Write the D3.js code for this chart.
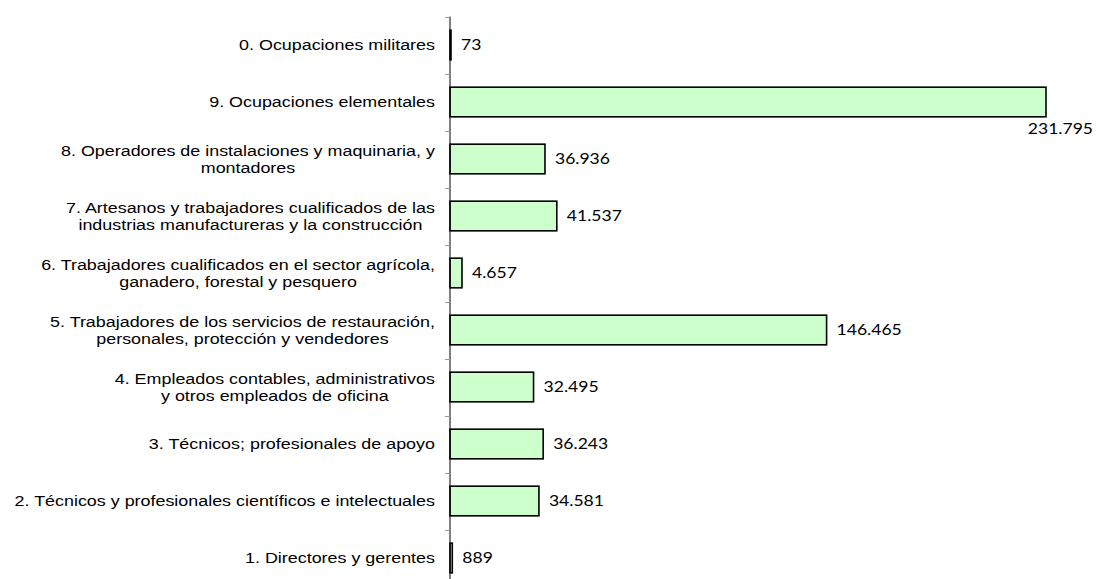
<!DOCTYPE html>
<html>
<head>
<meta charset="utf-8">
<script src="https://cdn.jsdelivr.net/npm/d3@7"></script>
<style>
  body { margin: 0; background: #fff; }
</style>
</head>
<body>
<div id="chart"></div>
<script>
// categories, top to bottom
const categories = [
    ["0. Ocupaciones militares"],
    ["9. Ocupaciones elementales"],
    ["8. Operadores de instalaciones y maquinaria, y", "montadores"],
    ["7. Artesanos y trabajadores cualificados de las", "industrias manufactureras y la construcción"],
    ["6. Trabajadores cualificados en el sector agrícola,", "ganadero, forestal y pesquero"],
    ["5. Trabajadores de los servicios de restauración,", "personales, protección y vendedores"],
    ["4. Empleados contables, administrativos", "y otros empleados de oficina"],
    ["3. Técnicos; profesionales de apoyo"],
    ["2. Técnicos y profesionales científicos e intelectuales"],
    ["1. Directores y gerentes"]
]
const values = [73, 231795, 36936, 41537, 4657, 146465, 32495, 36243, 34581, 889]
const valueLabels = ["73", "231.795", "36.936", "41.537", "4.657", "146.465", "32.495", "36.243", "34.581", "889"]

const width = 1096, height = 579
const x0 = 450, plotTop = 16.5, plotBottom = 586.5
const sx = 1.17   // the reference text is a bit wide, stretch it horizontally

const svg = d3.select("#chart")
    .append("svg")
    .attr("width", width)
    .attr("height", height)

const data = categories.map((c, i) => ({ id: i, lines: c, value: values[i], label: valueLabels[i] }))

// scales
var x = d3.scaleLinear()
    .domain([0, 231795])
    .range([x0, 1046])

var y = d3.scaleBand()
    .domain(data.map(d => d.id))
    .range([plotTop, plotBottom])
    .paddingInner(0.48)
    .paddingOuter(0.24)

var yb = d3.scaleBand()
    .domain(data.map(d => d.id))
    .range([plotTop, plotBottom])

// bars
svg.append("g")
    .selectAll("rect")
    .data(data)
    .enter()
    .append("rect")
    .attr("x", x(0))
    .attr("y", d => y(d.id))
    .attr("width", d => Math.max(x(d.value) - x(0), 1))
    .attr("height", y.bandwidth())
    .attr("fill", "#ccffcc")
    .attr("stroke", "#000")
    .attr("stroke-width", 1.6)

// axis line + ticks at band edges
const axisG = svg.append("g")
axisG.append("line")
    .attr("x1", x0).attr("x2", x0)
    .attr("y1", plotTop).attr("y2", height)
    .attr("stroke", "#000")
    .attr("stroke-width", 1)
axisG.selectAll(".tick")
    .data(data)
    .enter()
    .append("line")
    .attr("x1", x0 - 5).attr("x2", x0)
    .attr("y1", d => Math.round(yb(d.id)) + 0.5)
    .attr("y2", d => Math.round(yb(d.id)) + 0.5)
    .attr("stroke", "#999")
    .attr("stroke-width", 1)

// category labels: block right-aligned, lines centered with each other
const labelRight = 435
const lineH = 17
data.forEach(d => {
    const cy = yb(d.id) + yb.bandwidth() / 2
    const g = svg.append("g")
    const texts = d.lines.map((line, j) => g.append("text")
        .attr("dy", "0.35em")
        .attr("text-anchor", "middle")
        .style("font-family", "'Liberation Sans', Arial, sans-serif")
        .style("font-size", "15.3px")
        .style("fill", "#000")
        .text(line))
    const maxW = d3.max(texts, t => t.node().getComputedTextLength()) * sx
    texts.forEach((t, j) => t.attr("transform",
        `translate(${labelRight - maxW / 2},${cy + (j - (d.lines.length - 1) / 2) * lineH}) scale(${sx},1)`))
})

// value labels
svg.append("g")
    .selectAll("text")
    .data(data)
    .enter()
    .append("text")
    .attr("transform", d => {
        const big = d.value === 231795
        const tx = big ? x(d.value) + 47 : Math.max(x(d.value), x0 + 1) + 10
        const ty = big ? y(d.id) + y.bandwidth() + 12 : y(d.id) + y.bandwidth() / 2
        return `translate(${tx},${ty}) scale(${sx},1)`
    })
    .attr("dy", "0.35em")
    .attr("text-anchor", d => d.value === 231795 ? "end" : "start")
    .style("font-family", "Lato, 'Open Sans', sans-serif")
    .style("font-size", "15px")
    .style("fill", "#000")
    .text(d => d.label)
</script>
</body>
</html>
